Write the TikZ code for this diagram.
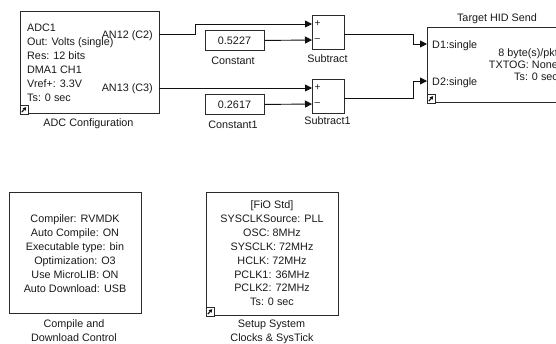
\documentclass[tikz,border=0pt]{standalone}
\usepackage{fontspec}
\setmainfont{Liberation Sans}
\usepackage{tikz}
\usepackage{xcolor}
\usetikzlibrary{arrows.meta}
\definecolor{blockline}{HTML}{2A2A2A}
\definecolor{wireline}{HTML}{101010}
\definecolor{labeltext}{HTML}{1A1A1A}
\tikzset{
  blk/.style={draw=blockline,line width=0.9pt,fill=white,inner sep=0pt,anchor=north west},
  txt/.style={font=\fontsize{10.8}{14}\selectfont,text=labeltext,inner sep=0pt},
  sgn/.style={font=\fontsize{10}{12}\selectfont,text=labeltext,inner sep=0pt,anchor=west},
  wire/.style={draw=wireline,line width=0.9pt},
  feed/.style={wire,-{Triangle[length=7pt,width=7pt]}},
  linkmark/.pic={
    \draw[blockline,fill=white,line width=0.7pt] (0,0) rectangle (8,-9);
    \draw[wireline,line width=1.1pt,-{Triangle[length=3.2pt,width=3.6pt]}] (1.8,-1.8) -- (6.2,-6.8);
  }
}

\begin{document}
\begin{tikzpicture}[x=1pt,y=-1pt]
      \clip (0,0) rectangle (556,343);
      \fill[white] (0,0) rectangle (556,343);
      % blocks
      \node[blk,minimum width=139,minimum height=102] (adc) at (20,11) {};
      \node[blk,minimum width=59,minimum height=20] (constA) at (205,30) {};
      \node[blk,minimum width=59,minimum height=20] (constB) at (205,94) {};
      \node[blk,minimum width=32,minimum height=34] (subA) at (312,15) {};
      \node[blk,minimum width=32,minimum height=34] (subB) at (312,79) {};
      \node[blk,minimum width=140,minimum height=75] (hid) at (427,27) {};
      \node[blk,minimum width=132,minimum height=121] (cmp) at (9,192) {};
      \node[blk,minimum width=132,minimum height=123] (clk) at (206,192) {};
      \pic at (adc.south west) {linkmark};
      \pic at (hid.south west) {linkmark};
      \pic at (clk.south west) {linkmark};
      % ports
      \coordinate (adcP1) at (159,34);
      \coordinate (adcP2) at (159,88);
      \coordinate (subAplus) at (312,24);
      \coordinate (subAminus) at (312,40);
      \coordinate (subAout) at (344,34);
      \coordinate (subBplus) at (312,88);
      \coordinate (subBminus) at (312,104);
      \coordinate (subBout) at (344,98.5);
      \coordinate (hidIn1) at (427,44);
      \coordinate (hidIn2) at (427,81);
      % signals
      \draw[feed] (adcP1) -- ++(36,0) |- (subAplus);
      \draw[feed] (adcP2) -- (subBplus);
      \draw[feed] (constA.east) -- (subAminus);
      \draw[feed] (constB.east) -- (subBminus);
      \draw[feed] (subAout) -- ++(69,0) |- (hidIn1);
      \draw[feed] (subBout) -- ++(69,0) |- (hidIn2);
      % texts
      \foreach \t [count=\i from 0] in {ADC1,Out: Volts (single),Res: 12 bits,DMA1 CH1,Vref+: 3.3V,Ts: 0 sec}
        \node[txt,anchor=base west] (adcl\i) at (27,31+14.1*\i) {\t};
      \node[txt,anchor=base east] (an12) at (153,38) {AN12 (C2)};
      \node[txt,anchor=base east] (an13) at (153,91) {AN13 (C3)};
      \node[txt,anchor=base] (adcLab) at (88.5,126) {ADC Configuration};
      \node[txt,anchor=base] (valA) at (234.5,44) {0.5227};
      \node[txt,anchor=base] (valB) at (234.5,108) {0.2617};
      \node[txt,anchor=base] (constALab) at (233,64.5) {Constant};
      \node[txt,anchor=base] (constBLab) at (233,128) {Constant1};
      \node[sgn] (subAp) at (314.5,24) {+};
      \node[sgn] (subAm) at (314.5,40) {--};
      \node[sgn] (subBp) at (314.5,88) {+};
      \node[sgn] (subBm) at (314.5,104) {--};
      \node[txt,anchor=base] (subALab) at (327.5,62) {Subtract};
      \node[txt,anchor=base] (subBLab) at (327.5,124) {Subtract1};
      \node[txt,anchor=base] (hidLab) at (497,21) {Target HID Send};
      \node[txt,anchor=base west] (hidD1) at (432,48.5) {D1:single};
      \node[txt,anchor=base west] (hidD2) at (432,85.5) {D2:single};
      \foreach \t [count=\i from 0] in {8 byte(s)/pkt,TXTOG: None,Ts: 0 sec}
        \node[txt,anchor=base east] (hidl\i) at (558,56+12*\i) {\t};
      \foreach \t [count=\i from 0] in {Compiler: RVMDK,Auto Compile: ON,Executable type: bin,Optimization: O3,Use MicroLIB: ON,Auto Download: USB}
        \node[txt,anchor=base] (cmpl\i) at (75,222.7+14*\i) {\t};
      \node[txt,anchor=base] (cmpLab1) at (74,327) {Compile and};
      \node[txt,anchor=base] (cmpLab2) at (74,341) {Download Control};
      \foreach \t [count=\i from 0] in {{[FiO Std]},SYSCLKSource: PLL,OSC: 8MHz,SYSCLK: 72MHz,HCLK: 72MHz,PCLK1: 36MHz,PCLK2: 72MHz,Ts: 0 sec}
        \node[txt,anchor=base] (clkl\i) at (272,208.5+13.9*\i) {\t};
      \node[txt,anchor=base] (clkLab1) at (271.5,327) {Setup System};
      \node[txt,anchor=base] (clkLab2) at (272,341) {Clocks \& SysTick};
    \end{tikzpicture}
\end{document}
